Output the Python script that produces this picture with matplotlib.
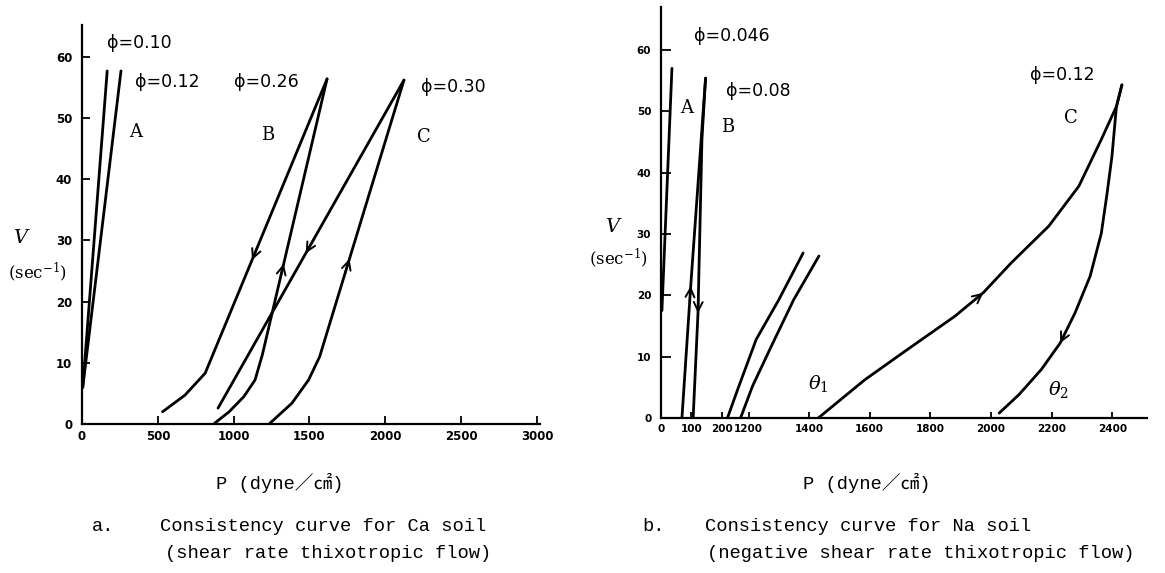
import numpy as np
import matplotlib.pyplot as plt

plt.rcParams['mathtext.fontset'] = 'dejavuserif'

# ---- a. Ca soil (P in dyne/cm2, V in 1/sec) ----
ca_a10_p = [5, 166]
ca_a10_v = [6, 57.7]
ca_a12_p = [5, 257]
ca_a12_v = [6, 57.7]
ca_b_down_p = [1616, 812, 678, 531]
ca_b_down_v = [56.4, 8.3, 4.7, 2.0]
ca_b_up_p = [873, 970, 1068, 1141, 1189, 1616]
ca_b_up_v = [0.1, 2.0, 4.5, 7.2, 11.3, 56.4]
ca_c_down_p = [2123, 897]
ca_c_down_v = [56.2, 2.6]
ca_c_up_p = [1238, 1384, 1494, 1567, 2123]
ca_c_up_v = [0.1, 3.4, 7.2, 11.0, 56.2]
ca_xticks = [0, 500, 1000, 1500, 2000, 2500, 3000]
ca_yticks = [0, 10, 20, 30, 40, 50, 60]

# ---- b. Na soil ----
na_a_p = [3, 36]
na_a_v = [17.5, 57]
na_b_up_p = [69, 98, 147]
na_b_up_v = [0, 21.5, 55.4]
na_b_down_p = [106, 122, 135, 147]
na_b_down_v = [0, 17.1, 45.4, 55.4]
na_m1_p = [416, 791, 1225, 1300, 1380]
na_m1_v = [0, 4.6, 12.8, 19.3, 26.9]
na_m2_p = [902, 1213, 1275, 1349, 1432]
na_m2_v = [0, 5.2, 11.7, 19.3, 26.4]
na_c_up_p = [1430, 1584, 1708, 1881, 1974, 2067, 2191, 2290, 2364, 2414, 2432]
na_c_up_v = [0, 6.25, 10.6, 16.6, 20.4, 25.3, 31.3, 37.8, 45.4, 50.8, 54.3]
na_c_down_p = [2432, 2414, 2399, 2383, 2364, 2327, 2277, 2228, 2166, 2092, 2027]
na_c_down_v = [54.3, 50.8, 42.6, 36.6, 30.1, 23.1, 17.1, 12.2, 7.9, 3.8, 0.8]
na_xticks = [0, 100, 200, 1200, 1400, 1600, 1800, 2000, 2200, 2400]
na_yticks = [0, 10, 20, 30, 40, 50, 60]

# broken P axis: 200..1200 squeezed
GAP = 89.0


def fwd(x):
    x = np.asarray(x, dtype=float)
    return np.where(x <= 200, x, np.where(x <= 1200, 200 + (x - 200) * GAP / 1000, x - 1200 + 200 + GAP))


def inv(y):
    y = np.asarray(y, dtype=float)
    return np.where(y <= 200, y, np.where(y <= 200 + GAP, 200 + (y - 200) * 1000 / GAP, y - 200 - GAP + 1200))


def chevron(ax, ps, vs, v_tip, step):
    ps = np.asarray(ps, float)
    vs = np.asarray(vs, float)
    o = np.argsort(vs)
    p_tip = np.interp(v_tip, vs[o], ps[o])
    p_tail = np.interp(v_tip - step, vs[o], ps[o])
    ax.annotate('', xy=(p_tip, v_tip), xytext=(p_tail, v_tip - step),
                arrowprops=dict(arrowstyle='->', lw=1.4, color='black',
                                mutation_scale=16, shrinkA=0, shrinkB=0))


def style(ax, size):
    for s in ['top', 'right']:
        ax.spines[s].set_visible(False)
    for s in ['left', 'bottom']:
        ax.spines[s].set_linewidth(1.6)
    ax.tick_params(direction='in', length=6, width=1.3, labelsize=size)
    ax.tick_params(axis='y', pad=7)
    ax.tick_params(axis='x', pad=4)
    for t in ax.get_xticklabels() + ax.get_yticklabels():
        t.set_fontweight('bold')


fig = plt.figure(figsize=(11.65, 5.73), dpi=100)
axL = fig.add_axes([0.0704, 0.2600, 0.3931, 0.6963])
axR = fig.add_axes([0.5674, 0.2705, 0.4172, 0.7173])

lw = 2.0
kw = dict(color='black', lw=lw, solid_capstyle='round')
phi = dict(fontsize=12.5, family='DejaVu Sans', va='center', ha='left')
let = dict(fontsize=13, family='DejaVu Serif', va='center', ha='center')

# left panel
for p, v in [(ca_a10_p, ca_a10_v), (ca_a12_p, ca_a12_v), (ca_b_down_p, ca_b_down_v),
             (ca_b_up_p, ca_b_up_v), (ca_c_down_p, ca_c_down_v), (ca_c_up_p, ca_c_up_v)]:
    axL.plot(p, v, **kw)
chevron(axL, ca_b_down_p, ca_b_down_v, 26.8, -2.5)
chevron(axL, ca_b_up_p, ca_b_up_v, 26.2, 2.5)
chevron(axL, ca_c_down_p, ca_c_down_v, 27.9, -2.5)
chevron(axL, ca_c_up_p, ca_c_up_v, 27.0, 2.5)
axL.text(166, 62.2, 'ϕ=0.10', **phi)
axL.text(349, 55.9, 'ϕ=0.12', **phi)
axL.text(999, 55.9, 'ϕ=0.26', **phi)
axL.text(2237, 55.1, 'ϕ=0.30', **phi)
axL.text(356, 47.7, 'A', **let)
axL.text(1226, 47.2, 'B', **let)
axL.text(2257, 46.9, 'C', **let)
axL.set_xlim(0, 3020)
axL.set_ylim(0, 65.2)
axL.set_xticks(ca_xticks)
axL.set_yticks(ca_yticks)
style(axL, 8.5)

# right panel
axR.set_xscale('function', functions=(fwd, inv))
for p, v in [(na_a_p, na_a_v), (na_b_up_p, na_b_up_v), (na_b_down_p, na_b_down_v),
             (na_m1_p, na_m1_v), (na_m2_p, na_m2_v), (na_c_up_p, na_c_up_v),
             (na_c_down_p, na_c_down_v)]:
    axR.plot(p, v, **kw)
chevron(axR, na_b_up_p, na_b_up_v, 21.5, 2.5)
chevron(axR, na_b_down_p, na_b_down_v, 17.1, -2.5)
chevron(axR, na_c_up_p, na_c_up_v, 20.4, 1.5)
chevron(axR, na_c_down_p, na_c_down_v, 12.2, -1.5)
axR.text(110, 62.2, 'ϕ=0.046', **phi)
axR.text(346, 53.3, 'ϕ=0.08', **phi)
axR.text(2129, 55.9, 'ϕ=0.12', **phi)
axR.text(85, 50.5, 'A', **let)
axR.text(442, 47.5, 'B', **let)
axR.text(2265, 48.9, 'C', **let)
axR.text(1430, 5.7, r'$\theta_1$', fontsize=14, ha='center', va='center')
axR.text(2222, 4.6, r'$\theta_2$', fontsize=14, ha='center', va='center')
axR.set_xlim(0, 2515)
axR.set_ylim(0, 67)
axR.set_xticks(na_xticks)
axR.set_xticklabels([str(t) for t in na_xticks])
axR.set_yticks(na_yticks)
style(axR, 7.5)
axR.tick_params(axis='x', length=4)
axR.tick_params(axis='y', length=7)

# axis titles and captions
for xv, xs, yv, ys in [(0.0172, 0.0326, 0.5846, 0.5253), (0.5253, 0.5313, 0.6038, 0.5497)]:
    fig.text(xv, yv, 'V', fontsize=14, family='DejaVu Serif', style='italic', ha='center', va='center')
    fig.text(xs, ys, r'(sec$^{-1}$)', fontsize=12, family='DejaVu Serif', ha='center', va='center')

cap = dict(fontsize=13.5, family=['Liberation Mono', 'Noto Sans CJK JP'], va='center')
fig.text(0.2403, 0.1571, 'P (dyne／㎠)', ha='center', **cap)
fig.text(0.7442, 0.1571, 'P (dyne／㎠)', ha='center', **cap)

fig.text(0.079, 0.0803, 'a.', ha='left', **cap)
fig.text(0.1373, 0.0803, 'Consistency curve for Ca soil', ha='left', **cap)
fig.text(0.1416, 0.0349, '(shear rate thixotropic flow)', ha='left', **cap)
fig.text(0.5511, 0.0803, 'b.', ha='left', **cap)
fig.text(0.6052, 0.0803, 'Consistency curve for Na soil', ha='left', **cap)
fig.text(0.6069, 0.0349, '(negative shear rate thixotropic flow)', ha='left', **cap)

fig.savefig('out.png', dpi=100, facecolor='white')
